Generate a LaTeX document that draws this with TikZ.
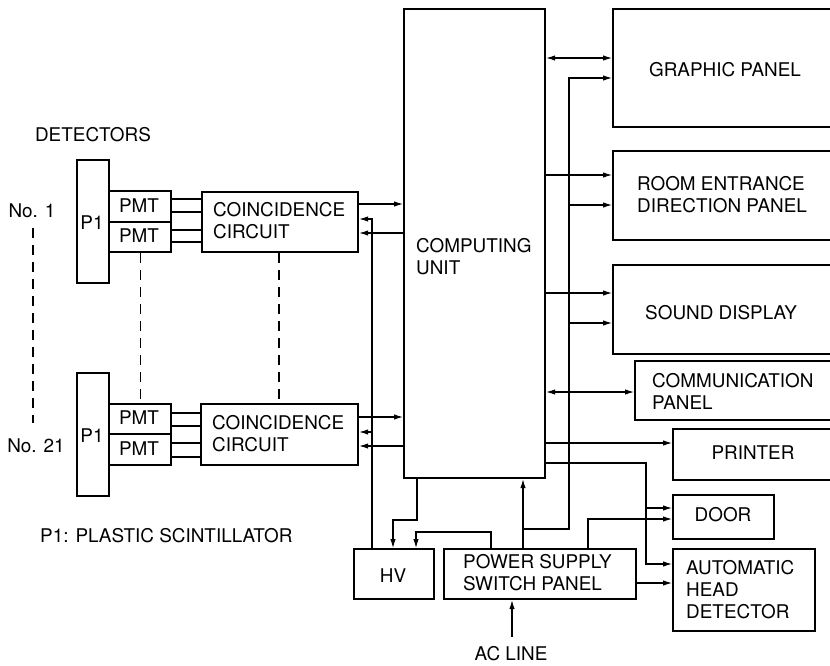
\documentclass[tikz,border=0pt]{standalone}
\usepackage{fontspec}
\setmainfont{TeX Gyre Heros}
\usetikzlibrary{arrows.meta}
\tikzset{
  box/.style={draw=black,line width=2.2pt,inner sep=0pt,rectangle},
  txt/.style={inner sep=0pt,font=\fontsize{18.9}{22}\selectfont,align=left},
  conn/.style={draw=black,line width=1.1pt},
  arr/.style={conn,-{Latex[length=9pt,width=5.5pt]}},
  barr/.style={conn,{Latex[length=9pt,width=5.5pt]}-{Latex[length=9pt,width=5.5pt]}},
  dsh/.style={conn,dash pattern=on 10pt off 7pt}
}
\newcommand{\mybox}[5]{\node[box,anchor=north west,minimum width={(#4-#2)*1pt},minimum height={(#5-#3)*1pt}] (#1) at (#2,#3) {};}
\begin{document}
\begin{tikzpicture}[x=1pt,y=-1pt]
\clip (0,0) rectangle (830,665);
\fill[white] (0,0) rectangle (830,665);
% boxes
\mybox{p1a}{76}{159}{108}{282}
\mybox{pmt1a}{108}{190}{170}{221}
\mybox{pmt2a}{108}{221}{170}{251}
\mybox{cca}{201}{191}{357}{251}
\mybox{p1b}{76}{372}{108}{495}
\mybox{pmt1b}{108}{403}{170}{433}
\mybox{pmt2b}{108}{433}{170}{464}
\mybox{ccb}{200}{403}{357}{464}
\mybox{cu}{403}{8}{544}{477}
\mybox{gp}{612}{8}{845}{126}
\mybox{rd}{612}{150}{845}{239}
\mybox{sd}{612}{264}{845}{353}
\mybox{cp}{634}{360}{845}{419}
\mybox{pr}{672}{428}{845}{479}
\mybox{door}{672}{494}{773}{538}
\mybox{ahd}{672}{548}{814}{630}
\mybox{hv}{353}{548}{433}{598}
\mybox{ps}{443}{548}{635}{598}
% texts
\node[txt] (tdet) at (93,135) {DETECTORS};
\node[txt] (tno1) at (32,211) {No. 1};
\node[txt] (tno21) at (36,446) {No. 21};
\node[txt] (tp1a) at (92,223) {P1};
\node[txt] (tp1b) at (92,436) {P1};
\node[txt] (tpmt1a) at (139,206) {PMT};
\node[txt] (tpmt2a) at (139,236) {PMT};
\node[txt] (tpmt1b) at (139,418) {PMT};
\node[txt] (tpmt2b) at (139,449) {PMT};
\node[txt,anchor=west] (tcca) at (213,221) {COINCIDENCE\\CIRCUIT};
\node[txt,anchor=west] (tccb) at (212,434) {COINCIDENCE\\CIRCUIT};
\node[txt,anchor=west] (tcu) at (416,257) {COMPUTING\\UNIT};
\node[txt] (tgp) at (725,70) {GRAPHIC PANEL};
\node[txt,anchor=west] (trd) at (637,195) {ROOM ENTRANCE\\DIRECTION PANEL};
\node[txt,anchor=west] (tsd) at (645,313) {SOUND DISPLAY};
\node[txt,anchor=west] (tcp) at (652,391) {COMMUNICATION\\PANEL};
\node[txt] (tpr) at (753,453) {PRINTER};
\node[txt] (tdoor) at (723,515) {DOOR};
\node[txt,anchor=west] (tahd) at (686,590) {AUTOMATIC\\HEAD\\DETECTOR};
\node[txt,anchor=west] (tps) at (463,573) {POWER SUPPLY\\SWITCH PANEL};
\node[txt] (thv) at (393,576) {HV};
\node[txt] (tac) at (511,654) {AC LINE};
\node[txt,anchor=west] (tleg) at (40,536) {P1: PLASTIC SCINTILLATOR};
% PMT to coincidence
\foreach \yy in {199,212} \draw[conn] (pmt1a.east |- 0,\yy) -- (cca.west |- 0,\yy);
\foreach \yy in {230,242} \draw[conn] (pmt2a.east |- 0,\yy) -- (cca.west |- 0,\yy);
\foreach \yy in {413,426} \draw[conn] (pmt1b.east |- 0,\yy) -- (ccb.west |- 0,\yy);
\foreach \yy in {443,457} \draw[conn] (pmt2b.east |- 0,\yy) -- (ccb.west |- 0,\yy);
% dashed
\coordinate (d1) at (33,228);
\coordinate (d2) at (33,423);
\draw[dsh] (d1) -- (d2);
\draw[dsh] (pmt2a.south) -- (pmt1b.north);
\draw[dsh] (cca.south -| 279,0) -- (ccb.north -| 279,0);
% coincidence <-> computing unit
\draw[arr] (cca.east |- 0,204) -- (cu.west |- 0,204);
\draw[arr] (cu.west |- 0,233) -- (cca.east |- 0,233);
\draw[arr] (ccb.east |- 0,417) -- (cu.west |- 0,417);
\draw[arr] (cu.west |- 0,446) -- (ccb.east |- 0,446);
% HV to coincidence
\draw[arr] (hv.north -| 372,0) |- (cca.east |- 0,219);
\draw[arr] (372,432) -- (ccb.east |- 0,432);
% CU to HV, PS to HV
\draw[arr] (cu.south -| 417,0) |- (393,520) -- (hv.north -| 393,0);
\draw[arr] (ps.north -| 491,0) |- (416,532) -- (hv.north -| 416,0);
% PS to CU and to panels
\draw[arr] (ps.north -| 523,0) -- (cu.south -| 523,0);
\draw[arr] (523,529) -| (569,78) -- (gp.west |- 0,78);
\draw[arr] (569,205) -- (rd.west |- 0,205);
\draw[arr] (569,323) -- (sd.west |- 0,323);
% CU to panels
\draw[barr] (cu.east |- 0,58) -- (gp.west |- 0,58);
\draw[arr] (cu.east |- 0,175) -- (rd.west |- 0,175);
\draw[arr] (cu.east |- 0,293) -- (sd.west |- 0,293);
\draw[barr] (cu.east |- 0,392) -- (cp.west |- 0,392);
\draw[arr] (cu.east |- 0,443) -- (pr.west |- 0,443);
\draw[arr] (cu.east |- 0,463) -| (646,564) -- (ahd.west |- 0,564);
\draw[arr] (646,508) -- (door.west |- 0,508);
% PS to door, head detector
\draw[arr] (ps.north -| 588,0) |- (door.west |- 0,519);
\draw[arr] (ps.east |- 0,583) -- (ahd.west |- 0,583);
% AC line
\coordinate (ac) at (512,637);
\draw[arr] (ac) -- (ps.south -| 512,0);
\end{tikzpicture}
\end{document}
